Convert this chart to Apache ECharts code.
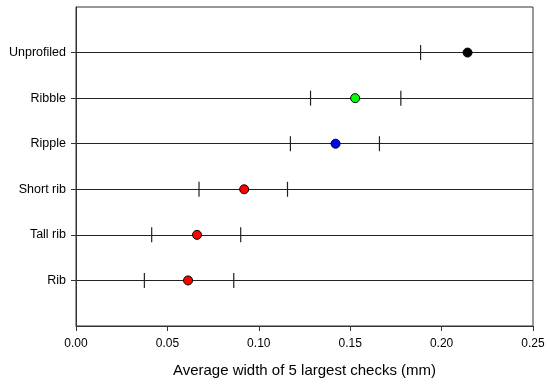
<!DOCTYPE html>
<html><head><meta charset="utf-8">
<script src="https://cdn.jsdelivr.net/npm/echarts@6/dist/echarts.min.js"></script>
<style>html,body{margin:0;padding:0;background:#fff}#c{width:550px;height:385px}</style>
</head><body><div id="c"></div>
<script>
// Categories from top to bottom
var categories = ['Unprofiled', 'Ribble', 'Ripple', 'Short rib', 'Tall rib', 'Rib'];
var means = [0.2142, 0.1527, 0.1420, 0.0920, 0.0662, 0.0613];
var lowerCI = [0.1885, 0.1283, 0.1173, 0.0673, 0.0414, 0.0374];
var upperCI = [null, 0.1777, 0.1660, 0.1157, 0.0901, 0.0863];
var xTicks = [0, 0.05, 0.10, 0.15, 0.20, 0.25];
var pointColors = ['#000000', '#00ff00', '#0000ff', '#ff0000', '#ff0000', '#ff0000'];

var n = categories.length;
function yPos(i) { return n - i; }
var labelMap = {};
categories.forEach(function (c, i) { labelMap[yPos(i)] = c; });

var tickData = [];
categories.forEach(function (c, i) {
  if (lowerCI[i] != null) tickData.push([lowerCI[i], yPos(i)]);
  if (upperCI[i] != null) tickData.push([upperCI[i], yPos(i)]);
});
var pointData = categories.map(function (c, i) {
  return { value: [means[i], yPos(i)], itemStyle: { color: pointColors[i] } };
});
var catPositions = categories.map(function (c, i) { return yPos(i); });

var font = 'Liberation Sans, Arial, sans-serif';
var chart = echarts.init(document.getElementById('c'), null, { renderer: 'canvas' });
chart.setOption({
  animation: false,
  grid: { left: 76, right: 17, top: 7, bottom: 59, show: true, borderColor: '#333', borderWidth: 1, backgroundColor: 'transparent' },
  xAxis: {
    type: 'value', min: 0, max: 0.25, interval: 0.05,
    name: 'Average width of 5 largest checks (mm)',
    nameLocation: 'middle', nameGap: 37,
    nameTextStyle: { fontFamily: font, fontSize: 15, color: '#000' },
    axisLine: { show: true, lineStyle: { color: '#333', width: 1 } },
    axisTick: { show: true, length: 5, lineStyle: { color: '#333' } },
    axisLabel: { fontFamily: font, fontSize: 12, color: '#000', margin: 12,
      formatter: function (v) { return v.toFixed(2); } },
    splitLine: { show: false }
  },
  yAxis: {
    type: 'value', min: 0, max: n + 1, interval: 1,
    axisLine: { show: true, lineStyle: { color: '#333', width: 1 } },
    axisTick: { show: true, length: 5, customValues: catPositions, lineStyle: { color: '#333' } },
    axisLabel: { fontFamily: font, fontSize: 12.5, color: '#000', margin: 10,
      customValues: catPositions,
      formatter: function (v) { return labelMap[v] || ''; } },
    splitLine: { show: true, lineStyle: { color: '#222', width: 1.2 } }
  },
  series: [
    {
      type: 'scatter', data: tickData, symbol: 'rect', symbolSize: [1.2, 15],
      itemStyle: { color: '#222', opacity: 1 }, z: 3, silent: true
    },
    {
      type: 'scatter', data: pointData, symbol: 'circle', symbolSize: 9,
      itemStyle: { borderColor: '#000', borderWidth: 1, opacity: 1 }, z: 4, silent: true
    }
  ]
});
</script></body></html>
